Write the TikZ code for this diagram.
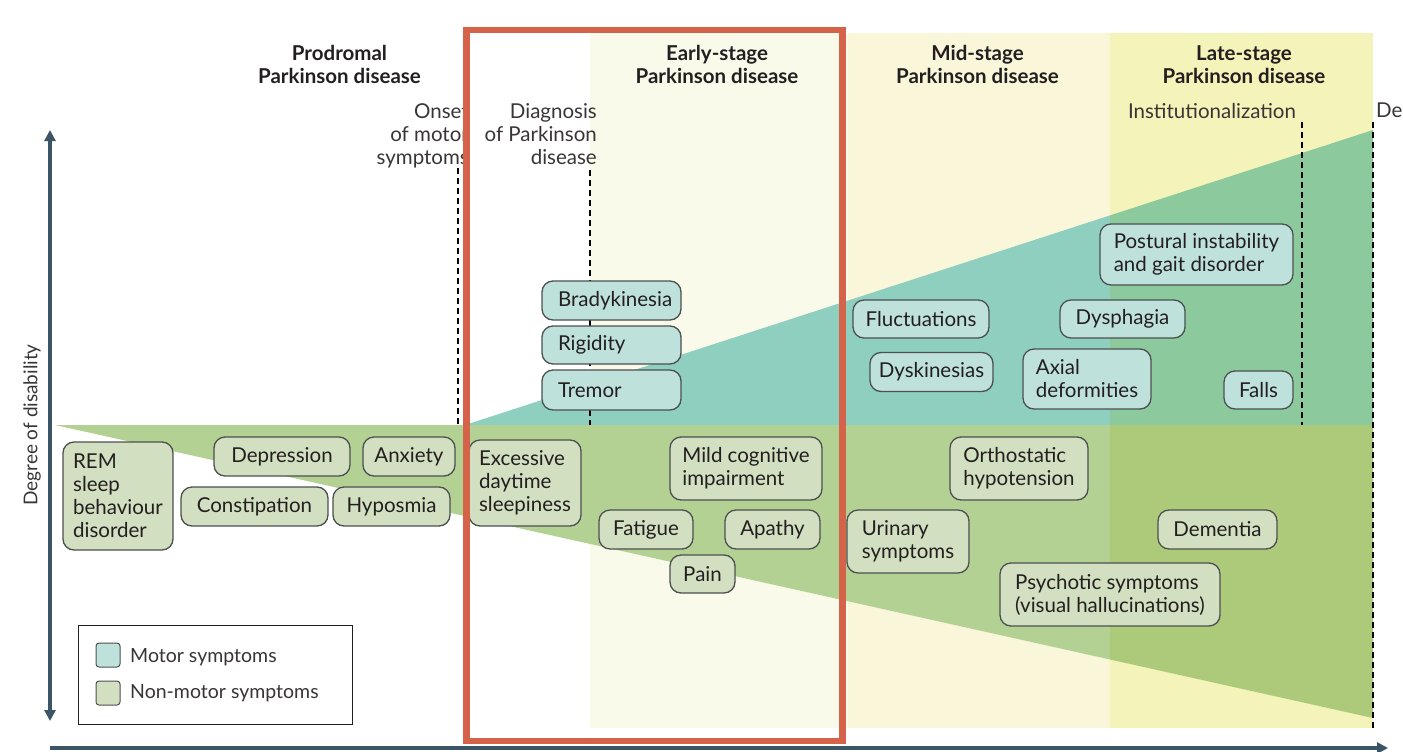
\documentclass[tikz,border=0pt]{standalone}
\usepackage{fontspec}
\setmainfont{Lato}
\usetikzlibrary{arrows.meta}
\definecolor{earlybg}{HTML}{FAFAEB}
\definecolor{midbg}{HTML}{FAF6DA}
\definecolor{latebg}{HTML}{F4F3B9}
\definecolor{tealA}{HTML}{8ECFC0}
\definecolor{tealB}{HTML}{8CCA9E}
\definecolor{greenA}{HTML}{B4D194}
\definecolor{greenB}{HTML}{ADCA7A}
\definecolor{nmfill}{HTML}{D2DFC0}
\definecolor{mofill}{HTML}{BFE1DC}
\definecolor{boxline}{HTML}{4B5050}
\definecolor{axisc}{HTML}{3B5566}
\definecolor{redbox}{HTML}{D4634A}
\definecolor{textc}{HTML}{231F20}
\tikzset{
  box/.style={draw=boxline, line width=1.3pt, rounded corners=11pt, text=textc,
    font=\fontsize{20.5}{23}\selectfont, inner xsep=0pt, inner ysep=0pt, align=center},
  nm/.style={box, fill=nmfill},
  mo/.style={box, fill=mofill},
  dashline/.style={draw=black, line width=1.1pt, dash pattern=on 6pt off 4pt},
  axisline/.style={draw=axisc, line width=4pt},
  head/.style={font=\fontsize{20.5}{23}\selectfont\bfseries, text=textc, align=center, inner sep=0pt},
  lbl/.style={font=\fontsize{20.5}{23}\selectfont, text=textc!90, inner sep=0pt},
  legsw/.style={draw=boxline, line width=1pt, rounded corners=3pt},
}
\begin{document}
\begin{tikzpicture}[x=1pt,y=-1pt]
\useasboundingbox (0,0) rectangle (1403,752);
% stage backgrounds
\fill[earlybg] (590,33) rectangle (848,728);
\fill[midbg] (848,33) rectangle (1110,728);
\fill[latebg] (1110,33) rectangle (1373,728);
% non-motor wedge
\fill[greenA] (55,425) -- (1110,425) -- (1110,659.5) -- cycle;
\fill[greenB] (1110,425) -- (1373,425) -- (1373,718) -- (1110,659.5) -- cycle;
% motor wedge
\fill[tealA] (465,425) -- (1110,215.4) -- (1110,425) -- cycle;
\fill[tealB] (1110,215.4) -- (1373,130) -- (1373,425) -- (1110,425) -- cycle;
% milestone dashed lines
\coordinate (onsetT) at (458,168);
\coordinate (onsetB) at (458,425);
\coordinate (diagT) at (590,170);
\coordinate (diagB) at (590,425);
\coordinate (instT) at (1302,122);
\coordinate (instB) at (1302,425);
\coordinate (deathT) at (1373,122);
\coordinate (deathB) at (1373,728);
\draw[dashline] (onsetT) -- (onsetB);
\draw[dashline] (diagT) -- (diagB);
\draw[dashline] (instT) -- (instB);
\draw[dashline] (deathT) -- (deathB);
% headings
\node[head] (hpro) at (339.5,64.5) {Prodromal\\Parkinson disease};
\node[head] (hearly) at (717,64.5) {Early-stage\\Parkinson disease};
\node[head] (hmid) at (977.5,64.5) {Mid-stage\\Parkinson disease};
\node[head] (hlate) at (1244,64.5) {Late-stage\\Parkinson disease};
% milestone labels
\node[lbl, anchor=north east, align=right] (onset) at (469,103) {Onset\\of motor\\symptoms};
\node[lbl, anchor=north east, align=right] (diag) at (597,103) {Diagnosis\\of Parkinson\\disease};
\node[lbl, anchor=north] (inst) at (1212,103) {Institutionalization};
\node[lbl, anchor=north west] (death) at (1376,103) {De};
% axes
\node[lbl, rotate=90, font=\fontsize{19}{22}\selectfont] (ylab) at (32,425) {Degree of disability};
\coordinate (yT) at (50,130);
\coordinate (yB) at (50,721);
\coordinate (xL) at (50,748);
\coordinate (xR) at (1388,748);
\draw[axisline, {Triangle[length=11pt,width=11pt]}-{Triangle[length=11pt,width=11pt]}] (yT) -- (yB);
\draw[axisline, -{Triangle[length=11pt,width=11pt]}] (xL) -- (xR);
% non-motor boxes
\node[nm, minimum width=110pt, minimum height=108pt, align=left] (rem) at (118,496) {REM\\sleep\\behaviour\\disorder};
\node[nm, minimum width=136pt, minimum height=39pt] (depr) at (282,456.5) {Depression};
\node[nm, minimum width=92pt, minimum height=39pt] (anx) at (409,456.5) {Anxiety};
\node[nm, minimum width=147pt, minimum height=39pt] (const) at (254.5,506.5) {Constipation};
\node[nm, minimum width=117pt, minimum height=39pt] (hypo) at (391.5,506.5) {Hyposmia};
\node[nm, minimum width=112pt, minimum height=86pt, align=left] (eds) at (525,483) {Excessive\\daytime\\sleepiness};
\node[nm, minimum width=152pt, minimum height=63pt, align=left] (mci) at (746,468.5) {Mild cognitive\\impairment};
\node[nm, minimum width=94pt, minimum height=39pt] (fat) at (646,529.5) {Fatigue};
\node[nm, minimum width=95pt, minimum height=39pt] (apa) at (772.5,529.5) {Apathy};
\node[nm, minimum width=65pt, minimum height=38pt] (pain) at (702.5,574) {Pain};
\node[nm, minimum width=138pt, minimum height=63pt, align=left] (orth) at (1019,468.5) {Orthostatic\\hypotension};
\node[nm, minimum width=122pt, minimum height=63pt, align=left] (uri) at (908,541.5) {Urinary\\symptoms};
\node[nm, minimum width=119pt, minimum height=39pt] (dem) at (1217.5,529.5) {Dementia};
\node[nm, minimum width=220pt, minimum height=63pt, align=left] (psy) at (1110,594.5) {Psychotic symptoms\\(visual hallucinations)};
% motor boxes
\node[mo, minimum width=139pt, minimum height=39pt, text width=107pt, align=left] (brady) at (611.5,300.5) {Bradykinesia};
\node[mo, minimum width=139pt, minimum height=38pt, text width=107pt, align=left] (rig) at (611.5,345) {Rigidity};
\node[mo, minimum width=139pt, minimum height=40pt, text width=107pt, align=left] (trem) at (611.5,390) {Tremor};
\node[mo, minimum width=136pt, minimum height=38pt] (fluc) at (921,319) {Fluctuations};
\node[mo, minimum width=125pt, minimum height=38pt] (dysph) at (1122.5,319) {Dysphagia};
\node[mo, minimum width=193pt, minimum height=61pt, align=left] (post) at (1196.5,254.5) {Postural instability\\and gait disorder};
\node[mo, minimum width=123pt, minimum height=39pt] (dysk) at (931.5,372) {Dyskinesias};
\node[mo, minimum width=128pt, minimum height=60pt, align=left] (axial) at (1087,379) {Axial\\deformities};
\node[mo, minimum width=69pt, minimum height=38pt] (falls) at (1258.5,390) {Falls};
% legend
\node[draw=textc, line width=1pt, fill=white, minimum width=274pt, minimum height=99pt, inner sep=0pt] (legend) at (215,674.5) {};
\node[legsw, fill=mofill, minimum width=24pt, minimum height=24pt, inner sep=0pt] (swm) at (108,655) {};
\node[legsw, fill=nmfill, minimum width=24pt, minimum height=24pt, inner sep=0pt] (swn) at (108,693) {};
\node[lbl, anchor=west, font=\fontsize{19.5}{22}\selectfont] (lm) at (130,657) {Motor symptoms};
\node[lbl, anchor=west, font=\fontsize{19.5}{22}\selectfont] (ln) at (130,693) {Non-motor symptoms};
% highlight frame
\draw[draw=redbox, line width=6.5pt] (466.5,30) rectangle (842.5,741);
\end{tikzpicture}
\end{document}
